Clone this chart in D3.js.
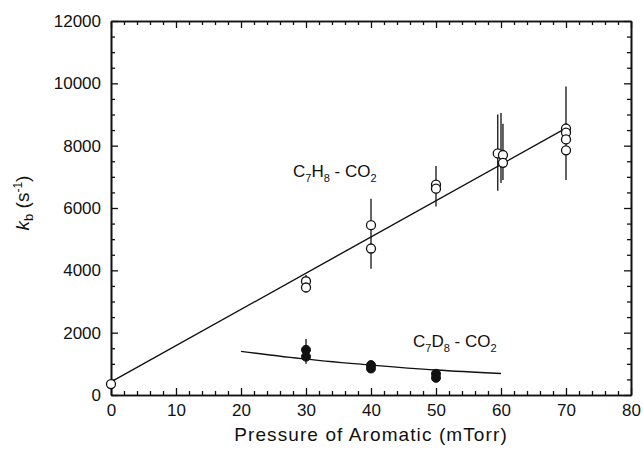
<!DOCTYPE html>
<html>
<head>
<meta charset="utf-8">
<script src="https://cdn.jsdelivr.net/npm/d3@7"></script>
<style>
  html, body { margin: 0; padding: 0; background: #fff; }
  svg { display: block; }
  text { font-family: "Liberation Sans", Arial, Helvetica, sans-serif; fill: #111; }
</style>
</head>
<body>
<svg id="chart" width="643" height="460"></svg>
<script>
// Axis ticks
const xTicks = [0, 10, 20, 30, 40, 50, 60, 70, 80];
const yTicks = [0, 2000, 4000, 6000, 8000, 10000, 12000];
const xMinor = d3.range(0, 81, 2).filter(v => v % 10 !== 0);
const yMinor = d3.range(0, 12001, 500).filter(v => v % 2000 !== 0);

// C7H8 - CO2 : pressure (mTorr) and k_b (s^-1), open circles
const h8X = [0, 30, 30, 40, 40, 50, 50, 59.5, 60.3, 60.3, 70, 70, 70, 70];
const h8Y = [350, 3650, 3450, 5450, 4700, 6750, 6620, 7750, 7700, 7450, 8550, 8420, 8200, 7850];
// error bars for C7H8 - CO2
const h8ErrX = [30, 40, 50, 59.5, 60.0, 60.3, 70];
const h8ErrLo = [3300, 4050, 6050, 6550, 6800, 6900, 6900];
const h8ErrHi = [3850, 6300, 7350, 9000, 9050, 8700, 9900];
// linear fit for C7H8 - CO2
const h8FitX = [0, 70];
const h8FitY = [420, 8560];

// C7D8 - CO2 : filled circles
const d8X = [30, 30, 40, 40, 50, 50];
const d8Y = [1450, 1230, 960, 850, 680, 550];
const d8ErrX = [30, 40, 50];
const d8ErrLo = [1000, 780, 480];
const d8ErrHi = [1800, 1050, 760];
// fitted curve for C7D8 - CO2
const d8FitX = [20, 30, 40, 50, 60];
const d8FitY = [1400, 1150, 960, 800, 690];

const svg = d3.select("#chart");
const plotLeft = 111, plotRight = 631, plotTop = 21, plotBottom = 395;

const x = d3.scaleLinear().domain([0, 80]).range([plotLeft, plotRight]);
const y = d3.scaleLinear().domain([0, 12000]).range([plotBottom, plotTop]);

const axisFont = 17;

// frame with inward ticks on every side
function styleAxis(g) {
  g.selectAll("path.domain").attr("stroke", "#111").attr("stroke-width", 1.6);
  g.selectAll(".tick line").attr("stroke", "#111").attr("stroke-width", 1.3);
  g.selectAll(".tick text").attr("font-size", axisFont).attr("fill", "#111")
    .style("font-family", "'Liberation Sans', Arial, sans-serif");
}
// tick marks only, no labels
function bareAxis(g) {
  styleAxis(g);
  g.selectAll(".tick text").remove();
}

svg.append("g").attr("transform", `translate(0,${plotBottom})`)
  .call(d3.axisBottom(x).tickValues(xTicks).tickFormat(d3.format("d")).tickSize(-7).tickPadding(9).tickSizeOuter(0))
  .call(styleAxis);
svg.append("g").attr("transform", `translate(0,${plotBottom})`)
  .call(d3.axisBottom(x).tickValues(xMinor).tickSize(-4).tickSizeOuter(0))
  .call(bareAxis);

svg.append("g").attr("transform", `translate(0,${plotTop})`)
  .call(d3.axisTop(x).tickValues(xTicks).tickSize(-7).tickSizeOuter(0))
  .call(bareAxis);
svg.append("g").attr("transform", `translate(0,${plotTop})`)
  .call(d3.axisTop(x).tickValues(xMinor).tickSize(-4).tickSizeOuter(0))
  .call(bareAxis);

svg.append("g").attr("transform", `translate(${plotLeft},0)`)
  .call(d3.axisLeft(y).tickValues(yTicks).tickFormat(d3.format("d")).tickSize(-7).tickPadding(10).tickSizeOuter(0))
  .call(styleAxis);
svg.append("g").attr("transform", `translate(${plotLeft},0)`)
  .call(d3.axisLeft(y).tickValues(yMinor).tickSize(-4).tickSizeOuter(0))
  .call(bareAxis);

svg.append("g").attr("transform", `translate(${plotRight},0)`)
  .call(d3.axisRight(y).tickValues(yTicks).tickSize(-7).tickSizeOuter(0))
  .call(bareAxis);
svg.append("g").attr("transform", `translate(${plotRight},0)`)
  .call(d3.axisRight(y).tickValues(yMinor).tickSize(-4).tickSizeOuter(0))
  .call(bareAxis);

// fit lines
const line = d3.line().x(d => x(d[0])).y(d => y(d[1]));
svg.append("path")
  .datum(h8FitX.map((v, i) => [v, h8FitY[i]]))
  .attr("d", line)
  .attr("fill", "none").attr("stroke", "#111").attr("stroke-width", 1.4);

svg.append("path")
  .datum(d8FitX.map((v, i) => [v, d8FitY[i]]))
  .attr("d", line.curve(d3.curveMonotoneX))
  .attr("fill", "none").attr("stroke", "#111").attr("stroke-width", 1.4);

// error bars
function errBars(xs, lo, hi) {
  svg.append("g").selectAll("line")
    .data(xs.map((v, i) => ({ x: v, lo: lo[i], hi: hi[i] })))
    .join("line")
    .attr("x1", d => x(d.x)).attr("x2", d => x(d.x))
    .attr("y1", d => y(d.lo)).attr("y2", d => y(d.hi))
    .attr("stroke", "#111").attr("stroke-width", 1.3);
}
errBars(h8ErrX, h8ErrLo, h8ErrHi);
errBars(d8ErrX, d8ErrLo, d8ErrHi);

// points
svg.append("g").selectAll("circle")
  .data(h8X.map((v, i) => [v, h8Y[i]]))
  .join("circle")
  .attr("cx", d => x(d[0])).attr("cy", d => y(d[1])).attr("r", 4.5)
  .attr("fill", "#fff").attr("stroke", "#111").attr("stroke-width", 1.3);

svg.append("g").selectAll("circle")
  .data(d8X.map((v, i) => [v, d8Y[i]]))
  .join("circle")
  .attr("cx", d => x(d[0])).attr("cy", d => y(d[1])).attr("r", 4.5)
  .attr("fill", "#111").attr("stroke", "#111").attr("stroke-width", 1);

// series labels with subscripts
function chemLabel(px, py, parts) {
  const t = svg.append("text").attr("x", px).attr("y", py).attr("font-size", 17);
  let lowered = false;
  parts.forEach(p => {
    const s = t.append("tspan").text(p.t);
    if (p.sub) {
      s.attr("font-size", 11).attr("dy", lowered ? 0 : 5);
      lowered = true;
    } else if (lowered) {
      s.attr("dy", -5);
      lowered = false;
    }
  });
}
chemLabel(293, 177, [{t: "C"}, {t: "7", sub: true}, {t: "H"}, {t: "8", sub: true}, {t: " - CO"}, {t: "2", sub: true}]);
chemLabel(413, 347, [{t: "C"}, {t: "7", sub: true}, {t: "D"}, {t: "8", sub: true}, {t: " - CO"}, {t: "2", sub: true}]);

// axis titles
svg.append("text")
  .attr("x", (plotLeft + plotRight) / 2).attr("y", 441)
  .attr("text-anchor", "middle").attr("font-size", 19)
  .attr("letter-spacing", 1.1)
  .text("Pressure of Aromatic (mTorr)");

const yt = svg.append("text")
  .attr("transform", `translate(29,203) rotate(-90)`)
  .attr("text-anchor", "middle").attr("font-size", 19);
yt.append("tspan").attr("font-style", "italic").text("k");
yt.append("tspan").attr("font-size", 13).attr("dy", 4).text("b");
yt.append("tspan").attr("dy", -4).text(" (s");
yt.append("tspan").attr("font-size", 12).attr("dy", -7).text("-1");
yt.append("tspan").attr("dy", 7).text(")");
</script>
</body>
</html>
